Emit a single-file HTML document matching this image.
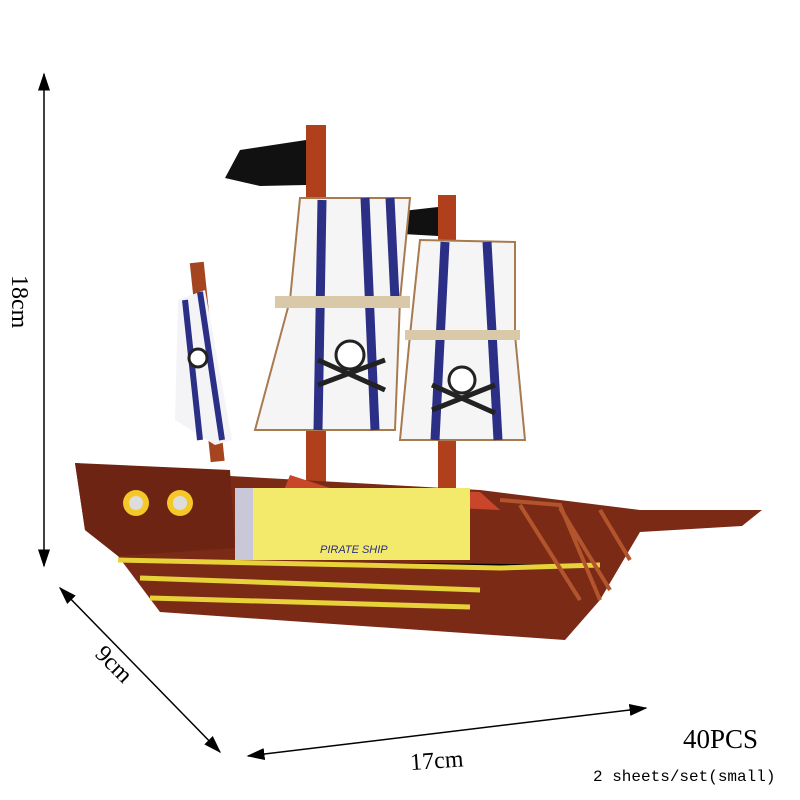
<!DOCTYPE html>
<html><head><style>html,body{margin:0;padding:0;background:#fff}svg{display:block}</style></head>
<body>
<svg width="800" height="800" viewBox="0 0 800 800" xmlns="http://www.w3.org/2000/svg">
<defs><marker id="a" markerWidth="12" markerHeight="8" refX="11" refY="4" orient="auto-start-reverse"><path d="M0,0 L12,4 L0,8 Z" fill="#000"/></marker></defs>
<rect width="800" height="800" fill="#fff"/>
<!-- arrows -->
<line x1="44" y1="74" x2="44" y2="566" stroke="#000" stroke-width="1.5" marker-start="url(#a)" marker-end="url(#a)"/>
<line x1="60" y1="588" x2="220" y2="752" stroke="#000" stroke-width="1.5" marker-start="url(#a)" marker-end="url(#a)"/>
<line x1="248" y1="756" x2="646" y2="708" stroke="#000" stroke-width="1.5" marker-start="url(#a)" marker-end="url(#a)"/>
<text x="0" y="0" transform="translate(12,275) rotate(90)" font-family="Liberation Serif,serif" font-size="24">18cm</text>
<text x="0" y="0" transform="translate(94,655) rotate(45)" font-family="Liberation Serif,serif" font-size="24">9cm</text>
<text x="410" y="768" transform="rotate(-4 440 760)" font-family="Liberation Serif,serif" font-size="24">17cm</text>
<text x="683" y="748" font-family="Liberation Serif,serif" font-size="27">40PCS</text>
<text x="593" y="781" font-family="Liberation Mono,monospace" font-size="16">2 sheets/set(small)</text>
<!-- masts -->
<rect x="306" y="125" width="20" height="380" fill="#b0401c"/>
<rect x="438" y="195" width="18" height="310" fill="#b0401c"/>
<rect x="200" y="262" width="14" height="200" fill="#a5451f" transform="rotate(-6 207 360)"/>
<!-- flags -->
<path d="M225,178 L240,150 L306,140 L306,185 L260,186 Z" fill="#111"/>
<path d="M368,232 L385,213 L438,207 L438,236 Z" fill="#111"/>
<!-- left sail -->
<path d="M178,300 L205,290 L232,440 L215,445 L175,420 Z" fill="#f4f4f6"/>
<path d="M185,300 L200,440 M200,292 L222,440" stroke="#2b2f86" stroke-width="6"/>
<!-- main sail -->
<path d="M300,198 L410,198 L400,300 L395,430 L255,430 L290,300 Z" fill="#f5f5f5" stroke="#a87a50" stroke-width="2"/>
<path d="M322,200 L318,430 M365,198 L375,430 M390,198 L395,300" stroke="#2b2f86" stroke-width="9"/>
<rect x="275" y="296" width="135" height="12" fill="#d9c9a8"/>
<!-- second sail -->
<path d="M420,240 L515,242 L515,335 L525,440 L400,440 L410,335 Z" fill="#f5f5f5" stroke="#a87a50" stroke-width="2"/>
<path d="M445,242 L435,440 M487,242 L498,440" stroke="#2b2f86" stroke-width="9"/>
<rect x="405" y="330" width="115" height="10" fill="#d9c9a8"/>
<!-- skulls -->
<circle cx="350" cy="355" r="14" fill="#fff" stroke="#222" stroke-width="3"/>
<path d="M318,385 L385,360 M318,360 L385,390" stroke="#222" stroke-width="5"/>
<circle cx="462" cy="380" r="13" fill="#fff" stroke="#222" stroke-width="3"/>
<path d="M432,410 L495,385 M432,385 L495,413" stroke="#222" stroke-width="5"/>
<circle cx="198" cy="358" r="9" fill="#fff" stroke="#222" stroke-width="3"/>
<!-- hull -->
<path d="M75,463 L230,476 L480,490 L640,510 L762,510 L742,526 L640,532 L600,600 L565,640 L160,612 L118,556 L85,530 Z" fill="#7b2a16"/>
<path d="M75,463 L230,470 L235,548 L118,556 L85,530 Z" fill="#6e2412"/>
<path d="M290,475 L330,488 L480,492 L500,510 L280,500 Z" fill="#c9462a"/>
<rect x="235" y="488" width="235" height="72" fill="#f3ea6c"/>
<rect x="235" y="488" width="18" height="72" fill="#c8c8d8"/>
<text x="320" y="553" font-family="Liberation Sans,sans-serif" font-size="11" font-style="italic" fill="#2b2f86">PIRATE SHIP</text>
<circle cx="136" cy="503" r="13" fill="#f4c828"/><circle cx="136" cy="503" r="7" fill="#ddd"/>
<circle cx="180" cy="503" r="13" fill="#f4c828"/><circle cx="180" cy="503" r="7" fill="#ddd"/>
<path d="M118,560 L500,568 L600,565 M140,578 L480,590 M150,598 L470,607" stroke="#e8d23a" stroke-width="5"/>
<path d="M500,500 L560,505 L600,600 M520,505 L580,600 M560,508 L610,590 M600,510 L630,560" stroke="#b3552c" stroke-width="4" fill="none"/>
</svg>
</body></html>
